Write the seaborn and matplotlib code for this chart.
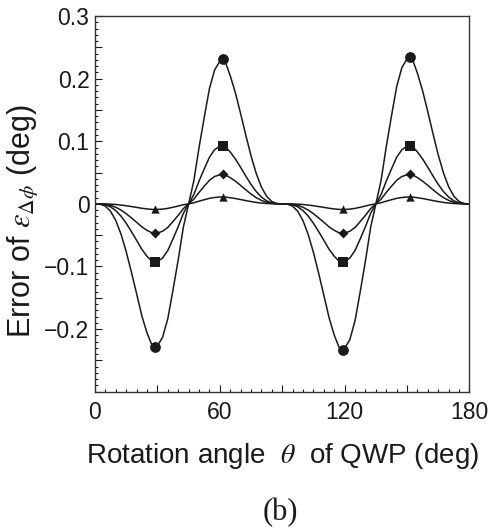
import numpy as np
import pandas as pd
import matplotlib
matplotlib.use("Agg")
import matplotlib.pyplot as plt
from matplotlib.ticker import MultipleLocator
import seaborn as sns

# rotation angle of the QWP, one sample every 2.5 deg
theta = [i * 2.5 for i in range(73)]

circle_err = [
    0, -0.0005, -0.0037, -0.0119, -0.0266, -0.0483, -0.0763, -0.1090, -0.1434, -0.1786,
    -0.2061, -0.2267, -0.2267, -0.2130, -0.1832, -0.1374, -0.0893, -0.0366, 0,
    0.0368, 0.0897, 0.1380, 0.1840, 0.2139, 0.2277, 0.2277, 0.2047, 0.1771, 0.1440,
    0.1095, 0.0766, 0.0485, 0.0267, 0.0120, 0.0037, 0.0005, 0,
    -0.0005, -0.0037, -0.0121, -0.0270, -0.0492, -0.0776, -0.1109, -0.1459, -0.1817,
    -0.2097, -0.2307, -0.2307, -0.2167, -0.1864, -0.1398, -0.0909, -0.0373, 0,
    0.0374, 0.0913, 0.1404, 0.1872, 0.2176, 0.2317, 0.2317, 0.2083, 0.1802, 0.1465,
    0.1114, 0.0779, 0.0494, 0.0271, 0.0122, 0.0037, 0.0005, 0,
]
square_err = [
    0, -0.0002, -0.0015, -0.0048, -0.0108, -0.0196, -0.0310, -0.0443, -0.0582, -0.0725,
    -0.0837, -0.0921, -0.0921, -0.0865, -0.0744, -0.0558, -0.0363, -0.0149, 0,
    0.0149, 0.0363, 0.0558, 0.0744, 0.0865, 0.0921, 0.0921, 0.0828, 0.0716, 0.0582,
    0.0443, 0.0310, 0.0196, 0.0108, 0.0048, 0.0015, 0.0002, 0,
    -0.0002, -0.0015, -0.0048, -0.0108, -0.0196, -0.0310, -0.0443, -0.0582, -0.0725,
    -0.0837, -0.0921, -0.0921, -0.0865, -0.0744, -0.0558, -0.0363, -0.0149, 0,
    0.0149, 0.0363, 0.0558, 0.0744, 0.0865, 0.0921, 0.0921, 0.0828, 0.0716, 0.0582,
    0.0443, 0.0310, 0.0196, 0.0108, 0.0048, 0.0015, 0.0002, 0,
]
diamond_err = [
    0, -0.0001, -0.0008, -0.0024, -0.0055, -0.0099, -0.0157, -0.0224, -0.0294, -0.0367,
    -0.0423, -0.0465, -0.0465, -0.0437, -0.0376, -0.0282, -0.0183, -0.0075, 0,
    0.0075, 0.0183, 0.0282, 0.0376, 0.0437, 0.0465, 0.0465, 0.0418, 0.0362, 0.0294,
    0.0224, 0.0157, 0.0099, 0.0055, 0.0024, 0.0008, 0.0001, 0,
    -0.0001, -0.0008, -0.0024, -0.0055, -0.0099, -0.0157, -0.0224, -0.0294, -0.0367,
    -0.0423, -0.0465, -0.0465, -0.0437, -0.0376, -0.0282, -0.0183, -0.0075, 0,
    0.0075, 0.0183, 0.0282, 0.0376, 0.0437, 0.0465, 0.0465, 0.0418, 0.0362, 0.0294,
    0.0224, 0.0157, 0.0099, 0.0055, 0.0024, 0.0008, 0.0001, 0,
]
triangle_err = [
    0, 0, -0.0001, -0.0005, -0.0010, -0.0019, -0.0030, -0.0043, -0.0056, -0.0070,
    -0.0081, -0.0089, -0.0089, -0.0084, -0.0072, -0.0054, -0.0035, -0.0014, 0,
    0.0018, 0.0043, 0.0066, 0.0088, 0.0102, 0.0109, 0.0109, 0.0098, 0.0085, 0.0069,
    0.0052, 0.0037, 0.0023, 0.0013, 0.0006, 0.0002, 0, 0,
    0, -0.0001, -0.0005, -0.0010, -0.0019, -0.0030, -0.0043, -0.0056, -0.0070,
    -0.0081, -0.0089, -0.0089, -0.0084, -0.0072, -0.0054, -0.0035, -0.0014, 0,
    0.0018, 0.0043, 0.0066, 0.0088, 0.0102, 0.0109, 0.0109, 0.0098, 0.0085, 0.0069,
    0.0052, 0.0037, 0.0023, 0.0013, 0.0006, 0.0002, 0, 0,
]

# marked extrema
peak_theta = [29, 61.5, 119, 151.5]
circle_peaks = [-0.229, 0.231, -0.233, 0.235]
square_peaks = [-0.093, 0.093, -0.093, 0.093]
diamond_peaks = [-0.046, 0.047, -0.046, 0.047]
triangle_peaks = [-0.0085, 0.0115, -0.0085, 0.0115]

sns.set_theme(style="white")
plt.rcParams["font.family"] = ["Liberation Sans", "DejaVu Sans"]
plt.rcParams["mathtext.fontset"] = "stix"

ink = "#1a1a1a"

fig = plt.figure(figsize=(4.94, 5.30), dpi=100)
ax = fig.add_axes([0.1923, 0.2609, 0.7581, 0.7089])

curves = pd.DataFrame({"theta": theta, "circle": circle_err, "square": square_err,
                       "diamond": diamond_err, "triangle": triangle_err})
peaks = pd.DataFrame({"theta": peak_theta, "circle": circle_peaks, "square": square_peaks,
                      "diamond": diamond_peaks, "triangle": triangle_peaks})

markers = {"circle": ("o", 60), "square": ("s", 60), "diamond": ("D", 26), "triangle": ("^", 36)}
for name, (mk, size) in markers.items():
    sns.lineplot(data=curves, x="theta", y=name, ax=ax, color=ink, linewidth=1.1)
    sns.scatterplot(data=peaks, x="theta", y=name, ax=ax, color=ink, marker=mk,
                    s=size, edgecolor=ink, linewidth=0, zorder=5)

ax.set_xlim(0, 180)
ax.set_ylim(-0.3, 0.3)
ax.set_xticks([0, 30, 60, 90, 120, 150, 180])
ax.set_xticklabels(["0", "", "60", "", "120", "", "180"])
ax.xaxis.set_minor_locator(MultipleLocator(5))
ax.set_yticks([-0.3, -0.25, -0.2, -0.15, -0.1, -0.05, 0, 0.05, 0.1, 0.15, 0.2, 0.25, 0.3])
ax.set_yticklabels(["", "", "\u22120.2", "", "\u22120.1", "", "0", "", "0.1", "", "0.2", "", "0.3"])
ax.yaxis.set_minor_locator(MultipleLocator(0.01))

ax.tick_params(axis="both", which="both", direction="in", colors=ink, labelsize=16.5,
               top=False, right=False, bottom=True, left=True, width=0.8)
ax.tick_params(axis="x", which="major", length=5, pad=7)
ax.tick_params(axis="y", which="major", length=5, pad=4)
ax.tick_params(axis="both", which="minor", length=2.5)
for sp in ax.spines.values():
    sp.set_color("#333333")
    sp.set_linewidth(1.0)

ax.set_xlabel(r"Rotation angle  $\theta$  of QWP (deg)", fontsize=20, color=ink, labelpad=12)
ax.set_ylabel(r"Error of $\varepsilon_{\Delta\phi}$ (deg)", fontsize=22, color=ink)
ax.yaxis.set_label_coords(-0.145, 0.455)

fig.text(0.567, 0.005, "(b)", fontsize=22, family=["Liberation Serif", "DejaVu Serif"],
         ha="center", va="bottom", color=ink)

fig.savefig("out.png", dpi=100)
